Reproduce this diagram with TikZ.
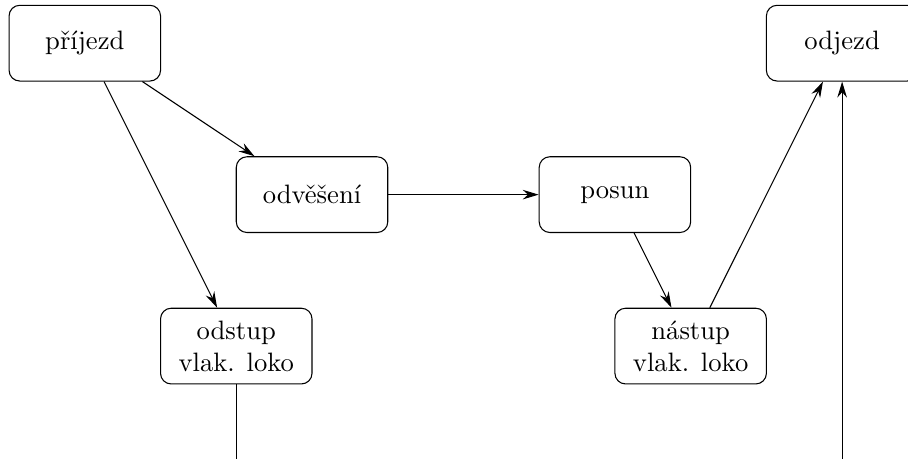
\documentclass[tikz,border=0pt]{standalone}
\usetikzlibrary{positioning,arrows.meta}

\begin{document}
\begin{tikzpicture}[->,>={Stealth[length=6pt,width=3.6pt,inset=2pt]},auto,on grid,node distance=2cm,
    box/.style={rectangle,rounded corners,draw,minimum width=2cm,minimum height=1cm,align=center}]

            \useasboundingbox (-1.12,0.57) rectangle (10.87,-5.49);

            \node[box] (prijezd) []{příjezd};
            \node[box] (odveseni) [below right=2cm and 3cm of prijezd]{odvěšení};
            \node[box] (posun) [right=4cm of odveseni]{posun};
            \node[box] (odstup) [below left=2cm and 1cm of odveseni]{odstup\\vlak. loko};
            \node[box] (nastup) [below right=2cm and 1cm of posun]{nástup\\vlak. loko};
            \node[box] (odjezd) [above right=2cm and 3cm of posun]{odjezd};

            % navazujici cast pod obrazkem
            \coordinate[below=2.5cm of odstup] (odstupdolu);
            \coordinate[below=6.5cm of odjezd] (odjezddolu);

            \draw (prijezd) to (odveseni);
            \draw (prijezd) to (odstup);
            \draw (odveseni) to (posun);
            \draw (posun) to (nastup);
            \draw (nastup) to (odjezd);
            \draw (odstup) to (odstupdolu);
            \draw (odjezddolu) to (odjezd);

            ;
        \end{tikzpicture}
\end{document}
